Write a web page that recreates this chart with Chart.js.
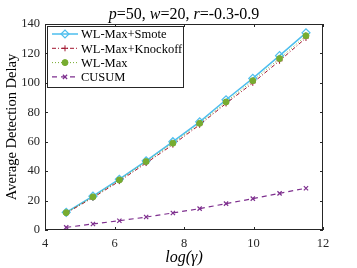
<!DOCTYPE html>
<html>
<head>
<meta charset="utf-8">
<script src="https://cdn.jsdelivr.net/npm/chart.js@4"></script>
<style>
  html, body { margin: 0; padding: 0; background: #fff; }
  #wrap { width: 357px; height: 268px; }
</style>
</head>
<body>
<div id="wrap"><canvas id="delayChart" width="357" height="268"></canvas></div>
<script>
// log(gamma) values on the x axis
const logGamma = [4.61, 5.38, 6.14, 6.91, 7.68, 8.45, 9.21, 9.98, 10.75, 11.51];

const smote    = [12.0, 23.0, 34.5, 47.0, 60.0, 73.5, 88.5, 103.0, 118.5, 134.0];
const knockoff = [11.5, 22.0, 33.2, 45.5, 58.0, 71.5, 86.0, 100.0, 115.0, 130.5];
const wlMax    = [11.8, 22.5, 34.0, 46.5, 59.0, 72.5, 87.0, 101.5, 116.5, 132.0];
const cusum    = [1.8, 4.1, 6.3, 8.8, 11.6, 14.5, 17.9, 21.3, 24.9, 28.4];

const xTicks = [4, 6, 8, 10, 12];
const yTicks = [0, 20, 40, 60, 80, 100, 120, 140];

const FONT = "'Liberation Serif', 'DejaVu Serif', serif";

function pts(ys) {
  return logGamma.map((x, i) => ({ x: x, y: ys[i] }));
}

// MATLAB-like frame with inward ticks, title and legend
const matlabFrame = {
  id: "matlabFrame",
  afterDraw(chart) {
    const ctx = chart.ctx;
    const a = chart.chartArea;
    const xs = chart.scales.x, ys = chart.scales.y;
    ctx.save();
    ctx.strokeStyle = "#262626";
    ctx.lineWidth = 1;
    ctx.strokeRect(a.left + 0.5, a.top + 0.5, a.right - a.left - 1, a.bottom - a.top - 1);
    ctx.beginPath();
    const tl = 3;
    xTicks.forEach(v => {
      const px = Math.round(xs.getPixelForValue(v)) + 0.5;
      ctx.moveTo(px, a.bottom); ctx.lineTo(px, a.bottom - tl);
      ctx.moveTo(px, a.top); ctx.lineTo(px, a.top + tl);
    });
    yTicks.forEach(v => {
      const py = Math.round(ys.getPixelForValue(v)) + 0.5;
      ctx.moveTo(a.left, py); ctx.lineTo(a.left + tl, py);
      ctx.moveTo(a.right, py); ctx.lineTo(a.right - tl, py);
    });
    ctx.stroke();

    // title with italic variables
    const parts = [
      ["p", true], ["=50, ", false], ["w", true], ["=20, ", false], ["r", true], ["=-0.3-0.9", false]
    ];
    ctx.fillStyle = "#000";
    ctx.textBaseline = "alphabetic";
    ctx.textAlign = "left";
    let total = 0;
    parts.forEach(p => {
      ctx.font = (p[1] ? "italic " : "") + "16px " + FONT;
      total += ctx.measureText(p[0]).width;
    });
    let tx = (a.left + a.right) / 2 - total / 2;
    parts.forEach(p => {
      ctx.font = (p[1] ? "italic " : "") + "16px " + FONT;
      ctx.fillText(p[0], tx, 18.5);
      tx += ctx.measureText(p[0]).width;
    });

    // legend box
    const lx = 47, ly = 26, lw = 136, lh = 61;
    ctx.fillStyle = "#fff";
    ctx.fillRect(lx, ly, lw, lh);
    ctx.strokeStyle = "#262626";
    ctx.lineWidth = 1;
    ctx.strokeRect(lx + 0.5, ly + 0.5, lw, lh);
    chart.data.datasets.forEach((ds, i) => {
      const y = 34 + i * 14.3;
      ctx.strokeStyle = ds.borderColor;
      ctx.lineWidth = ds.borderWidth;
      ctx.setLineDash(ds.borderDash || []);
      ctx.beginPath();
      ctx.moveTo(52, y); ctx.lineTo(78, y);
      ctx.stroke();
      ctx.setLineDash([]);
      ctx.fillStyle = ds.pointBackgroundColor;
      ctx.strokeStyle = ds.borderColor;
      ctx.lineWidth = ds.pointBorderWidth || 1;
      Chart.helpers.drawPoint(ctx, {
        pointStyle: ds.pointStyle,
        radius: ds.pointRadius,
        borderWidth: ds.pointBorderWidth || 1
      }, 65, y);
      ctx.font = "12.5px " + FONT;
      ctx.fillStyle = "#000";
      ctx.textBaseline = "middle";
      ctx.fillText(ds.label, 81, y + 1);
    });
    ctx.restore();
  }
};

const ctx = document.getElementById("delayChart").getContext("2d");
new Chart(ctx, {
  type: "line",
  data: {
    datasets: [
      {
        label: "WL-Max+Smote",
        data: pts(smote),
        borderColor: "#4DBEEE",
        backgroundColor: "#4DBEEE",
        pointBackgroundColor: "rgba(255,255,255,0)",
        borderWidth: 1.5,
        pointStyle: "rectRot",
        pointRadius: 4,
        pointBorderWidth: 1.2,
        order: 4
      },
      {
        label: "WL-Max+Knockoff",
        data: pts(knockoff),
        borderColor: "#A2142F",
        backgroundColor: "#A2142F",
        pointBackgroundColor: "#A2142F",
        borderWidth: 1,
        borderDash: [4, 2, 1, 2],
        pointStyle: "cross",
        pointRadius: 3,
        pointBorderWidth: 1,
        order: 3
      },
      {
        label: "WL-Max",
        data: pts(wlMax),
        borderColor: "#77AC30",
        backgroundColor: "#77AC30",
        pointBackgroundColor: "#77AC30",
        borderWidth: 1,
        borderDash: [1, 2],
        pointStyle: "circle",
        pointRadius: 3,
        pointBorderWidth: 1,
        order: 2
      },
      {
        label: "CUSUM",
        data: pts(cusum),
        borderColor: "#7E2F8E",
        backgroundColor: "#7E2F8E",
        pointBackgroundColor: "#7E2F8E",
        borderWidth: 1.2,
        borderDash: [5, 4],
        pointStyle: "crossRot",
        pointRadius: 3,
        pointBorderWidth: 1.2,
        order: 1
      }
    ]
  },
  options: {
    responsive: false,
    animation: false,
    layout: { padding: { top: 24, right: 34, left: 0, bottom: 0 } },
    plugins: {
      legend: { display: false },
      tooltip: { enabled: false },
      title: { display: false }
    },
    scales: {
      x: {
        type: "linear",
        min: 4, max: 12,
        afterFit(s) { s.height = 38; },
        grid: { display: false, drawTicks: false },
        border: { display: false },
        ticks: {
          stepSize: 2,
          padding: 6,
          color: "#262626",
          font: { family: FONT, size: 12.5 }
        },
        title: {
          display: true,
          text: "log(γ)",
          color: "#000",
          padding: { top: 0, bottom: 1 },
          font: { family: FONT, size: 16, style: "italic" }
        }
      },
      y: {
        min: 0, max: 140,
        afterFit(s) { s.width = 45; },
        grid: { display: false, drawTicks: false },
        border: { display: false },
        ticks: {
          stepSize: 20,
          padding: 5,
          color: "#262626",
          font: { family: FONT, size: 12.5 }
        },
        title: {
          display: true,
          text: "Average Detection Delay",
          color: "#000",
          padding: { top: 3, bottom: 0 },
          font: { family: FONT, size: 14.5 }
        }
      }
    }
  },
  plugins: [matlabFrame]
});
</script>
</body>
</html>
